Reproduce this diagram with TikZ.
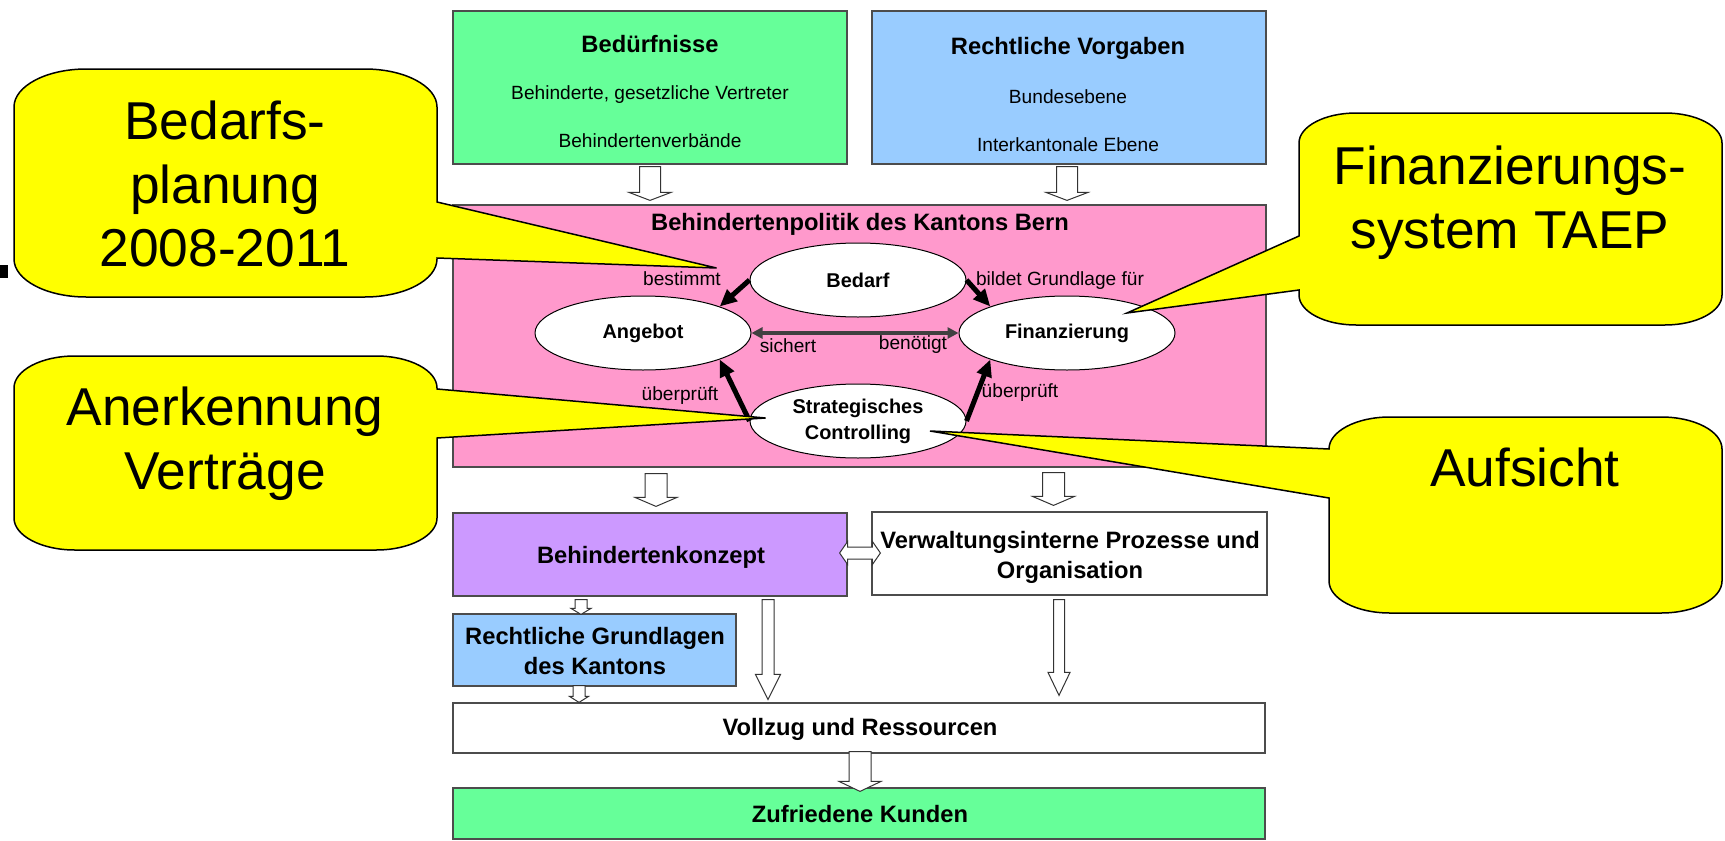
\documentclass[tikz,border=0pt]{standalone}
\usepackage{fontspec}
\setmainfont{Liberation Sans}
\usetikzlibrary{shapes.geometric,arrows.meta,calc}

\definecolor{needgreen}{RGB}{102,255,153}
\definecolor{lawblue}{RGB}{153,204,255}
\definecolor{policypink}{RGB}{255,153,204}
\definecolor{conceptlilac}{RGB}{204,153,255}
\definecolor{noteyellow}{RGB}{255,255,0}

\tikzset{
	box/.style={draw=black!70, line width=1.2bp, inner sep=0pt},
	oval/.style={ellipse, draw, fill=white, line width=1bp, minimum width=216bp, minimum height=74bp, inner sep=0pt, align=center, font=\fontsize{20}{26}\selectfont\bfseries},
	boxtext/.style={font=\fontsize{23.8}{30}\selectfont\bfseries, align=center},
	smalltext/.style={font=\fontsize{19.2}{22}\selectfont},
	bigtext/.style={font=\fontsize{53.5}{64}\selectfont, align=center},
	strong/.style={line width=5bp, -{Triangle[length=17bp,width=15bp]}},
	twoway/.style={line width=3.5bp, draw=black!75, {Triangle[length=11bp,width=11bp]}-{Triangle[length=11bp,width=11bp]}},
	hollow/.style={draw=black!80, fill=white, line width=1bp},
	callout/.style={draw=black, fill=noteyellow, line width=1.5bp}
}

\newcommand{\hollowdown}[5]{%
	\coordinate (ha) at (#1);
	\coordinate (hb) at (#2);
	\draw[hollow] ($(ha)+(-#3,0)$) -- ($(ha)+(#3,0)$) -- ($(hb)+(#3,-#5)$) -- ($(hb)+(#4,-#5)$)
		-- (hb) -- ($(hb)+(-#4,-#5)$) -- ($(hb)+(-#3,-#5)$) -- cycle;
}

\newcommand{\hollowboth}[5]{%
	\coordinate (ha) at (#1);
	\coordinate (hb) at (#2);
	\draw[hollow] (ha) -- ($(ha)+(#5,-#4)$) -- ($(ha)+(#5,-#3)$) -- ($(hb)+(-#5,-#3)$) -- ($(hb)+(-#5,-#4)$) -- (hb)
		-- ($(hb)+(-#5,#4)$) -- ($(hb)+(-#5,#3)$) -- ($(ha)+(#5,#3)$) -- ($(ha)+(#5,#4)$) -- cycle;
}

\newcommand{\calloutright}[8]{%
	\filldraw[callout] (#1+1.9*#8,#2) -- (#3-1.9*#8,#2)
		.. controls (#3-0.85*#8,#2) and (#3,#2+0.45*#8) .. (#3,#2+#8)
		-- (#3,#5) -- (#7) -- (#3,#6) -- (#3,#4-#8)
		.. controls (#3,#4-0.45*#8) and (#3-0.85*#8,#4) .. (#3-1.9*#8,#4)
		-- (#1+1.9*#8,#4)
		.. controls (#1+0.85*#8,#4) and (#1,#4-0.45*#8) .. (#1,#4-#8)
		-- (#1,#2+#8)
		.. controls (#1,#2+0.45*#8) and (#1+0.85*#8,#2) .. (#1+1.9*#8,#2) -- cycle;
}

\newcommand{\calloutleft}[8]{%
	\filldraw[callout] (#1+1.9*#8,#2) -- (#3-1.9*#8,#2)
		.. controls (#3-0.85*#8,#2) and (#3,#2+0.45*#8) .. (#3,#2+#8)
		-- (#3,#4-#8)
		.. controls (#3,#4-0.45*#8) and (#3-0.85*#8,#4) .. (#3-1.9*#8,#4)
		-- (#1+1.9*#8,#4)
		.. controls (#1+0.85*#8,#4) and (#1,#4-0.45*#8) .. (#1,#4-#8)
		-- (#1,#6) -- (#7) -- (#1,#5) -- (#1,#2+#8)
		.. controls (#1,#2+0.45*#8) and (#1+0.85*#8,#2) .. (#1+1.9*#8,#2) -- cycle;
}

\begin{document}
\begin{tikzpicture}[x=1bp, y=-1bp]
	\useasboundingbox (0,0) rectangle (1725,841);
	
	\fill (0,265) rectangle (8,278);
	
	\node[box, fill=needgreen, minimum width=394bp, minimum height=153bp] (need) at (650,87.5) {};
	\node[boxtext] (needtitle) at (650,44) {Bedürfnisse};
	\node[smalltext] (needone) at (650,95) {Behinderte, gesetzliche Vertreter};
	\node[smalltext] (needtwo) at (650,141) {Behindertenverbände};
	
	\node[box, fill=lawblue, minimum width=394bp, minimum height=153bp] (law) at (1069,87.5) {};
	\node[boxtext] (lawtitle) at (1068,48) {Rechtliche Vorgaben};
	\node[smalltext] (lawone) at (1068,97) {Bundesebene};
	\node[smalltext] (lawtwo) at (1068,145) {Interkantonale Ebene};
	
	\node[box, fill=policypink, minimum width=813bp, minimum height=262bp] (politik) at (859.5,336) {};
	\node[boxtext] (politiktitle) at (860,224) {Behindertenpolitik des Kantons Bern};
	
	\hollowdown{$(need.south)+(0,2)$}{$(need.south |- politik.north)+(0,-4)$}{10.5}{21}{8}
	\hollowdown{$(law.south)+(-2,2)$}{$(law.south |- politik.north)+(-2,-4)$}{10.5}{21}{8}
	
	\node[oval] (bedarf) at (858,280) {Bedarf};
	\node[oval] (angebot) at (643,333) {Angebot};
	\node[oval] (finanzierung) at (1067,333) {Finanzierung};
	\node[oval] (controlling) at (858,421) {Strategisches\\Controlling};
	
	\draw[strong] (bedarf.west) -- (angebot.north east);
	\draw[strong] (bedarf.east) -- (finanzierung.north west);
	\draw[strong] (controlling.west) -- (angebot.south east);
	\draw[strong] (controlling.east) -- (finanzierung.south west);
	\draw[twoway] (angebot.east) -- (finanzierung.west);
	
	\node[smalltext] (lblbest) at (682,279) {bestimmt};
	\node[smalltext] (lblbild) at (1060,281) {bildet Grundlage für};
	\node[smalltext] (lblsich) at (788,346) {sichert};
	\node[smalltext] (lblbeno) at (913,345) {benötigt};
	\node[smalltext] (lblprufa) at (680,396) {überprüft};
	\node[smalltext] (lblprufb) at (1020,393) {überprüft};
	
	\node[box, fill=conceptlilac, minimum width=394bp, minimum height=83bp] (konzept) at (650,554.5) {};
	\node[boxtext] (konzepttext) at (651,557) {Behindertenkonzept};
	\node[box, fill=white, minimum width=395bp, minimum height=83bp] (verwaltung) at (1069.5,553.5) {};
	\node[boxtext] (verwaltungtext) at (1070,557) {Verwaltungsinterne Prozesse und\\Organisation};
	\node[box, fill=lawblue, minimum width=283bp, minimum height=72bp] (grundlagen) at (594.5,650) {};
	\node[boxtext] (grundlagentext) at (595,651) {Rechtliche Grundlagen\\des Kantons};
	\node[box, fill=white, minimum width=812bp, minimum height=50bp] (vollzug) at (859,728) {};
	\node[boxtext] (vollzugtext) at (860,729) {Vollzug und Ressourcen};
	\node[box, fill=needgreen, minimum width=812bp, minimum height=51bp] (kunden) at (859,813.5) {};
	\node[boxtext] (kundentext) at (860,814) {Zufriedene Kunden};
	
	\hollowdown{$(konzept.north |- politik.south)+(6,6)$}{$(konzept.north)+(6,-6)$}{11}{21}{9}
	\hollowdown{$(verwaltung.north |- politik.south)+(-16,5)$}{$(verwaltung.north)+(-16,-6)$}{11}{21}{9}
	\hollowboth{$(konzept.east)+(-8,-1.5)$}{$(verwaltung.west)+(9,-0.5)$}{6}{11.5}{8}
	\hollowdown{$(grundlagen.north |- konzept.south)+(-13.5,3)$}{$(grundlagen.north)+(-13.5,1)$}{6}{10}{6}
	\hollowdown{$(konzept.south)+(118,3)$}{$(konzept.south |- vollzug.north)+(118,-3)$}{6}{12.5}{25}
	\hollowdown{$(verwaltung.south)+(-10.5,4)$}{$(verwaltung.south |- vollzug.north)+(-10.5,-7)$}{5.5}{11}{23}
	\hollowdown{$(grundlagen.south)+(-15.5,-1)$}{$(grundlagen.south |- vollzug.north)+(-15.5,0)$}{6}{9.5}{6}
	\hollowdown{$(vollzug.south)+(1,-2)$}{$(kunden.north)+(1,4)$}{11}{21}{10}
	
	\calloutright{14}{69}{437}{297}{202}{258}{$(bedarf.west)+(-33,-12)$}{38}
	\calloutright{14}{356}{437}{550}{389}{438}{$(controlling.west)+(16,-3)$}{32}
	\calloutleft{1299}{113}{1722}{325}{236}{290}{$(finanzierung.center)+(60,-20)$}{30}
	\calloutleft{1329}{417}{1722}{613}{449}{498}{$(controlling.center)+(72,10)$}{32}
	
	\node[bigtext] (plantext) at (225,184) {Bedarfs-\\planung\\2008-2011};
	\node[bigtext] (anertext) at (225,444) {Anerkennung\\Verträge};
	\node[bigtext] (fintext) at (1510,203) {Finanzierungs-\\system TAEP};
	\node[bigtext] (aufstext) at (1525,467) {Aufsicht};
\end{tikzpicture}
\end{document}
